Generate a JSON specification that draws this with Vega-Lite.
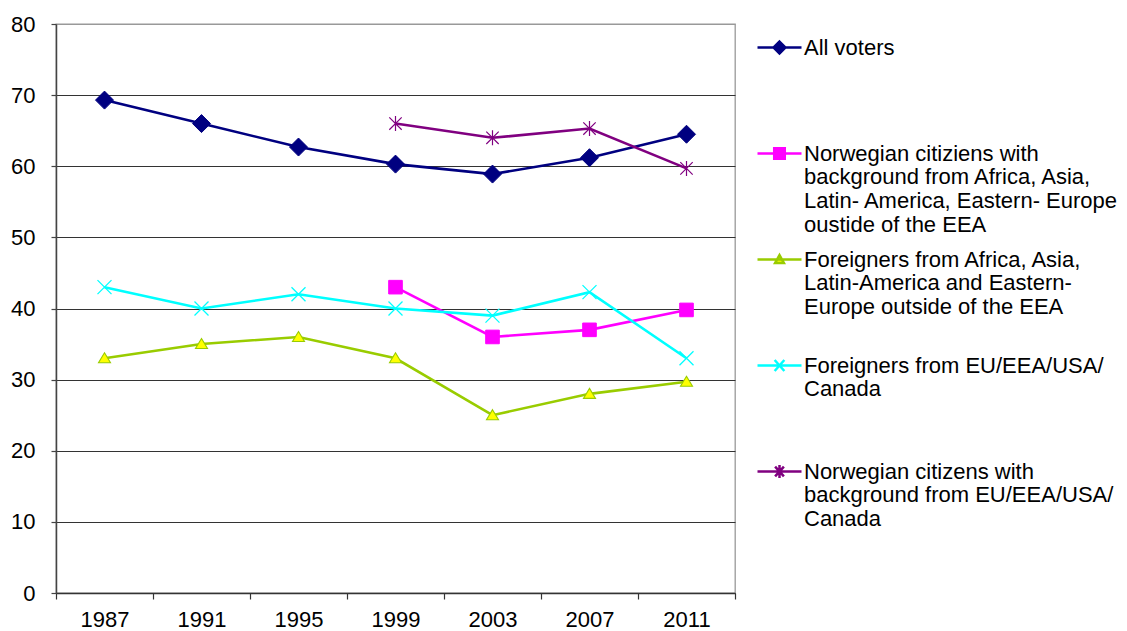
{
  "$schema": "https://vega.github.io/schema/vega-lite/v6.json",
  "width": 679,
  "height": 569,
  "autosize": {"type": "none"},
  "padding": {"left": 56, "top": 24, "right": 392, "bottom": 38},
  "background": "white",
  "params": [
    {"name": "ser", "value": ["All voters", "Norwegian citiziens with background from Africa, Asia, Latin- America, Eastern- Europe oustide of the EEA", "Foreigners from Africa, Asia, Latin-America and Eastern- Europe outside of the EEA", "Foreigners from EU/EEA/USA/ Canada", "Norwegian citizens with background from EU/EEA/USA/ Canada"]},
    {"name": "labs", "value": [
      ["All voters", " ", " ", " "],
      ["Norwegian citiziens with", "background from Africa, Asia,", "Latin- America, Eastern- Europe", "oustide of the EEA"],
      ["Foreigners from Africa, Asia,", "Latin-America and Eastern-", "Europe outside of the EEA", " "],
      ["Foreigners from EU/EEA/USA/", "Canada", " ", " "],
      ["Norwegian citizens with", "background from EU/EEA/USA/", "Canada", " "]
    ]},
    {"name": "lsym", "value": [
      "M-1,0H1M0,-0.27L0.27,0L0,0.27L-0.27,0Z",
      "M-1,0H1M-0.24,-0.24H0.24V0.24H-0.24Z",
      "M-1,0H1M0,-0.2L0.2,0.16H-0.2Z",
      "M-1,0H1M-0.22,-0.25L0.22,0.25M-0.22,0.25L0.22,-0.25",
      "M-1,0H1M-0.2,-0.22L0.2,0.22M-0.2,0.22L0.2,-0.22M0,-0.3V0.3"
    ]},
    {"name": "lfill", "value": ["#000080", "#FF00FF", "#FFFF00", "#00FFFF", "#800080"]},
    {"name": "lstroke", "value": ["#000080", "#FF00FF", "#99CC00", "#00FFFF", "#800080"]}
  ],
  "data": {"values": [
    {"year": "1987", "series": "All voters", "value": 69.3},
    {"year": "1991", "series": "All voters", "value": 66.0},
    {"year": "1995", "series": "All voters", "value": 62.7},
    {"year": "1999", "series": "All voters", "value": 60.3},
    {"year": "2003", "series": "All voters", "value": 58.9},
    {"year": "2007", "series": "All voters", "value": 61.2},
    {"year": "2011", "series": "All voters", "value": 64.5},
    {"year": "1999", "series": "Norwegian citiziens with background from Africa, Asia, Latin- America, Eastern- Europe oustide of the EEA", "value": 43.0},
    {"year": "2003", "series": "Norwegian citiziens with background from Africa, Asia, Latin- America, Eastern- Europe oustide of the EEA", "value": 36.0},
    {"year": "2007", "series": "Norwegian citiziens with background from Africa, Asia, Latin- America, Eastern- Europe oustide of the EEA", "value": 37.0},
    {"year": "2011", "series": "Norwegian citiziens with background from Africa, Asia, Latin- America, Eastern- Europe oustide of the EEA", "value": 39.8},
    {"year": "1987", "series": "Foreigners from Africa, Asia, Latin-America and Eastern- Europe outside of the EEA", "value": 33.0},
    {"year": "1991", "series": "Foreigners from Africa, Asia, Latin-America and Eastern- Europe outside of the EEA", "value": 35.0},
    {"year": "1995", "series": "Foreigners from Africa, Asia, Latin-America and Eastern- Europe outside of the EEA", "value": 36.0},
    {"year": "1999", "series": "Foreigners from Africa, Asia, Latin-America and Eastern- Europe outside of the EEA", "value": 33.0},
    {"year": "2003", "series": "Foreigners from Africa, Asia, Latin-America and Eastern- Europe outside of the EEA", "value": 25.0},
    {"year": "2007", "series": "Foreigners from Africa, Asia, Latin-America and Eastern- Europe outside of the EEA", "value": 28.0},
    {"year": "2011", "series": "Foreigners from Africa, Asia, Latin-America and Eastern- Europe outside of the EEA", "value": 29.7},
    {"year": "1987", "series": "Foreigners from EU/EEA/USA/ Canada", "value": 43.0},
    {"year": "1991", "series": "Foreigners from EU/EEA/USA/ Canada", "value": 40.0},
    {"year": "1995", "series": "Foreigners from EU/EEA/USA/ Canada", "value": 42.0},
    {"year": "1999", "series": "Foreigners from EU/EEA/USA/ Canada", "value": 40.0},
    {"year": "2003", "series": "Foreigners from EU/EEA/USA/ Canada", "value": 39.0},
    {"year": "2007", "series": "Foreigners from EU/EEA/USA/ Canada", "value": 42.3},
    {"year": "2011", "series": "Foreigners from EU/EEA/USA/ Canada", "value": 33.0},
    {"year": "1999", "series": "Norwegian citizens with background from EU/EEA/USA/ Canada", "value": 66.0},
    {"year": "2003", "series": "Norwegian citizens with background from EU/EEA/USA/ Canada", "value": 64.0},
    {"year": "2007", "series": "Norwegian citizens with background from EU/EEA/USA/ Canada", "value": 65.3},
    {"year": "2011", "series": "Norwegian citizens with background from EU/EEA/USA/ Canada", "value": 59.7}
  ]},
  "encoding": {
    "x": {
      "field": "year", "type": "ordinal", "title": null,
      "scale": {"paddingInner": 0, "paddingOuter": 0},
      "axis": {
        "labelAngle": 0, "tickBand": "extent", "tickSize": 6, "labelPadding": 10,
        "labelFont": "Liberation Sans", "labelFontSize": 22, "labelColor": "#000",
        "domainColor": "#333", "domainWidth": 1.5, "tickColor": "#333", "tickWidth": 1.2, "grid": false
      }
    },
    "y": {
      "field": "value", "type": "quantitative", "title": null,
      "scale": {"domain": [0, 80], "nice": false},
      "axis": {
        "values": [0, 10, 20, 30, 40, 50, 60, 70, 80],
        "tickSize": 5, "labelPadding": 16,
        "labelFont": "Liberation Sans", "labelFontSize": 22, "labelColor": "#000",
        "domainColor": "#444", "domainWidth": 1.5, "tickColor": "#444", "tickWidth": 1.2,
        "grid": true,
        "gridColor": {"condition": {"test": "datum.value == 80", "value": "#999999"}, "value": "#333333"},
        "gridWidth": 1.2
      }
    }
  },
  "layer": [
    {
      "mark": {"type": "line", "strokeWidth": 2.6},
      "encoding": {
        "color": {
          "field": "series", "type": "nominal",
          "scale": {
            "domain": ["All voters", "Norwegian citiziens with background from Africa, Asia, Latin- America, Eastern- Europe oustide of the EEA", "Foreigners from Africa, Asia, Latin-America and Eastern- Europe outside of the EEA", "Foreigners from EU/EEA/USA/ Canada", "Norwegian citizens with background from EU/EEA/USA/ Canada"],
            "range": ["#000080", "#FF00FF", "#99CC00", "#00FFFF", "#800080"]
          },
          "legend": {
            "title": null, "orient": "right", "offset": 21, "padding": 0,
            "labelFont": "Liberation Sans", "labelFontSize": 22, "labelColor": "#000",
            "labelLimit": 500, "labelOffset": 1, "labelBaseline": "alphabetic",
            "symbolSize": 1936, "symbolStrokeWidth": 2.5, "rowPadding": 0,
            "labelExpr": "labs[indexof(ser, datum.value)]",
            "encode": {
              "symbols": {"update": {
                "shape": {"signal": "lsym[indexof(ser, datum.value)]"},
                "fill": {"signal": "lfill[indexof(ser, datum.value)]"},
                "stroke": {"signal": "lstroke[indexof(ser, datum.value)]"},
                "strokeWidth": {"value": 2.5},
                "opacity": {"value": 1}
              }},
              "labels": {"update": {
                "dy": {"value": 7},
                "lineHeight": {"value": 23.8}
              }}
            }
          }
        }
      }
    },
    {
      "transform": [{"filter": "datum.series == 'All voters'"}],
      "mark": {"type": "point", "size": 400, "strokeWidth": 1, "opacity": 1, "filled": true, "fill": "#000080", "stroke": "#000080", "shape": "M0,-0.9L0.9,0L0,0.9L-0.9,0Z"}
    },
    {
      "transform": [{"filter": "indexof(datum.series, 'Norwegian citiziens') == 0"}],
      "mark": {"type": "point", "size": 400, "strokeWidth": 1, "opacity": 1, "filled": true, "fill": "#FF00FF", "stroke": "#FF00FF", "shape": "M-0.68,-0.68H0.68V0.68H-0.68Z"}
    },
    {
      "transform": [{"filter": "indexof(datum.series, 'Foreigners from Africa') == 0"}],
      "mark": {"type": "point", "size": 400, "strokeWidth": 1.1, "opacity": 1, "fill": "#FFFF00", "stroke": "#99CC00", "shape": "M0,-0.55L0.6,0.45H-0.6Z"}
    },
    {
      "transform": [{"filter": "indexof(datum.series, 'Foreigners from EU') == 0"}],
      "mark": {"type": "point", "size": 400, "strokeWidth": 1.3, "opacity": 1, "fill": null, "stroke": "#00FFFF", "shape": "M-0.7,-0.7L0.7,0.7M-0.7,0.7L0.7,-0.7"}
    },
    {
      "transform": [{"filter": "indexof(datum.series, 'Norwegian citizens with background from EU') == 0"}],
      "mark": {"type": "point", "size": 400, "strokeWidth": 1.2, "opacity": 1, "fill": null, "stroke": "#800080", "shape": "M-0.62,-0.62L0.62,0.62M-0.62,0.62L0.62,-0.62M0,-0.75V0.75"}
    }
  ],
  "config": {
    "view": {"stroke": "#999999", "strokeWidth": 1.3}
  }
}
